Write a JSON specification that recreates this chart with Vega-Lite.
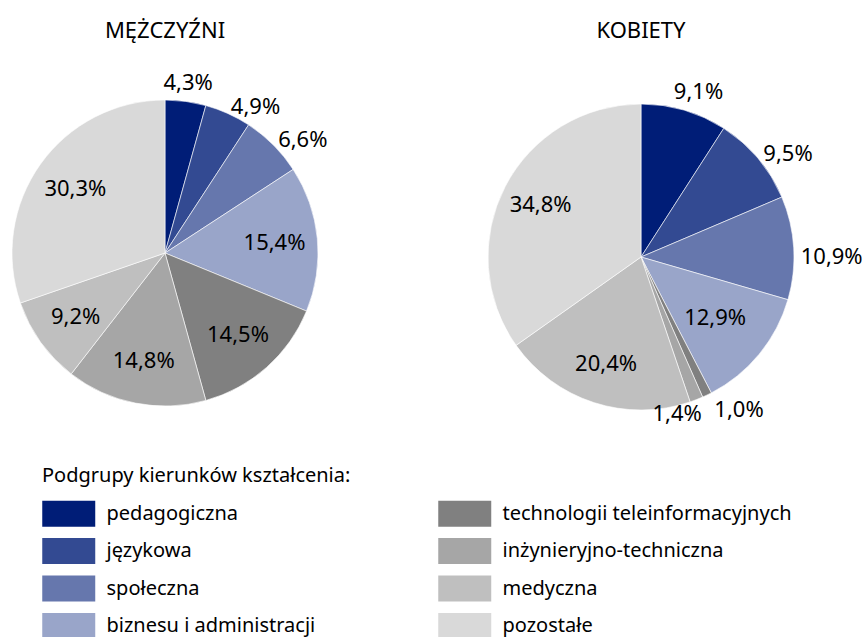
{
  "$schema": "https://vega.github.io/schema/vega-lite/v6.json",
  "padding": {"left": 0, "top": 20, "right": 0, "bottom": 0},
  "data": {
    "values": [
      {"plec": "MĘŻCZYŹNI", "grupa": "pedagogiczna", "kolejnosc": 1, "udzial": 4.3},
      {"plec": "MĘŻCZYŹNI", "grupa": "językowa", "kolejnosc": 2, "udzial": 4.9},
      {"plec": "MĘŻCZYŹNI", "grupa": "społeczna", "kolejnosc": 3, "udzial": 6.6},
      {"plec": "MĘŻCZYŹNI", "grupa": "biznesu i administracji", "kolejnosc": 4, "udzial": 15.4},
      {"plec": "MĘŻCZYŹNI", "grupa": "technologii teleinformacyjnych", "kolejnosc": 5, "udzial": 14.5},
      {"plec": "MĘŻCZYŹNI", "grupa": "inżynieryjno-techniczna", "kolejnosc": 6, "udzial": 14.8},
      {"plec": "MĘŻCZYŹNI", "grupa": "medyczna", "kolejnosc": 7, "udzial": 9.2},
      {"plec": "MĘŻCZYŹNI", "grupa": "pozostałe", "kolejnosc": 8, "udzial": 30.3},
      {"plec": "KOBIETY", "grupa": "pedagogiczna", "kolejnosc": 1, "udzial": 9.1},
      {"plec": "KOBIETY", "grupa": "językowa", "kolejnosc": 2, "udzial": 9.5},
      {"plec": "KOBIETY", "grupa": "społeczna", "kolejnosc": 3, "udzial": 10.9},
      {"plec": "KOBIETY", "grupa": "biznesu i administracji", "kolejnosc": 4, "udzial": 12.9},
      {"plec": "KOBIETY", "grupa": "technologii teleinformacyjnych", "kolejnosc": 5, "udzial": 1.0},
      {"plec": "KOBIETY", "grupa": "inżynieryjno-techniczna", "kolejnosc": 6, "udzial": 1.4},
      {"plec": "KOBIETY", "grupa": "medyczna", "kolejnosc": 7, "udzial": 20.4},
      {"plec": "KOBIETY", "grupa": "pozostałe", "kolejnosc": 8, "udzial": 34.8}
    ]
  },
  "transform": [
    {"calculate": "replace(format(datum.udzial, '.1f'), '.', ',') + '%'", "as": "etykieta"}
  ],
  "spacing": 94,
  "hconcat": [
    {
      "width": 330,
      "height": 370,
      "title": "MĘŻCZYŹNI",
      "transform": [{"filter": "datum.plec === 'MĘŻCZYŹNI'"}],
      "encoding": {
        "theta": {"field": "udzial", "type": "quantitative", "stack": true},
        "order": {"field": "kolejnosc", "type": "quantitative"}
      },
      "layer": [
        {
          "mark": {"type": "arc", "outerRadius": 153, "stroke": "#ffffff", "strokeWidth": 0.6},
          "encoding": {
            "color": {
              "field": "grupa",
              "type": "nominal",
              "scale": {
                "domain": ["pedagogiczna", "językowa", "społeczna", "biznesu i administracji", "technologii teleinformacyjnych", "inżynieryjno-techniczna", "medyczna", "pozostałe"],
                "range": ["#001d77", "#334a92", "#6677ad", "#99a5c9", "#808080", "#a6a6a6", "#bfbfbf", "#d9d9d9"]
              },
              "legend": {"title": "Podgrupy kierunków kształcenia:"}
            }
          }
        },
        {
          "mark": {"type": "text", "radius": 110, "fontSize": 22, "font": "Noto Sans", "color": "#000000"},
          "encoding": {"text": {"condition": {"test": "datum.udzial > 9", "field": "etykieta", "type": "nominal"}, "value": ""}}
        },
        {
          "mark": {"type": "text", "radius": 172, "fontSize": 22, "font": "Noto Sans", "color": "#000000"},
          "encoding": {"text": {"condition": {"test": "datum.grupa === 'pedagogiczna'", "field": "etykieta", "type": "nominal"}, "value": ""}}
        },
        {
          "mark": {"type": "text", "radius": 160, "align": "left", "fontSize": 22, "font": "Noto Sans", "color": "#000000"},
          "encoding": {"text": {"condition": {"test": "datum.grupa === 'językowa' || datum.grupa === 'społeczna'", "field": "etykieta", "type": "nominal"}, "value": ""}}
        }
      ]
    },
    {
      "width": 420,
      "height": 378,
      "title": "KOBIETY",
      "transform": [{"filter": "datum.plec === 'KOBIETY'"}],
      "encoding": {
        "theta": {"field": "udzial", "type": "quantitative", "stack": true},
        "order": {"field": "kolejnosc", "type": "quantitative"}
      },
      "layer": [
        {
          "mark": {"type": "arc", "outerRadius": 153, "stroke": "#ffffff", "strokeWidth": 0.6},
          "encoding": {
            "color": {"field": "grupa", "type": "nominal"}
          }
        },
        {
          "mark": {"type": "text", "radius": 113, "fontSize": 22, "font": "Noto Sans", "color": "#000000"},
          "encoding": {"text": {"condition": {"test": "datum.udzial > 13", "field": "etykieta", "type": "nominal"}, "value": ""}}
        },
        {
          "mark": {"type": "text", "radius": 96, "fontSize": 22, "font": "Noto Sans", "color": "#000000"},
          "encoding": {"text": {"condition": {"test": "datum.grupa === 'biznesu i administracji'", "field": "etykieta", "type": "nominal"}, "value": ""}}
        },
        {
          "mark": {"type": "text", "radius": 172, "dx": 9, "fontSize": 22, "font": "Noto Sans", "color": "#000000"},
          "encoding": {"text": {"condition": {"test": "datum.grupa === 'pedagogiczna'", "field": "etykieta", "type": "nominal"}, "value": ""}}
        },
        {
          "mark": {"type": "text", "radius": 160, "align": "left", "fontSize": 22, "font": "Noto Sans", "color": "#000000"},
          "encoding": {"text": {"condition": {"test": "datum.grupa === 'językowa'", "field": "etykieta", "type": "nominal"}, "value": ""}}
        },
        {
          "mark": {"type": "text", "radius": 160, "align": "left", "baseline": "top", "fontSize": 22, "font": "Noto Sans", "color": "#000000"},
          "encoding": {"text": {"condition": {"test": "datum.grupa === 'społeczna'", "field": "etykieta", "type": "nominal"}, "value": ""}}
        },
        {
          "mark": {"type": "text", "radius": 170, "align": "left", "fontSize": 22, "font": "Noto Sans", "color": "#000000"},
          "encoding": {"text": {"condition": {"test": "datum.grupa === 'technologii teleinformacyjnych'", "field": "etykieta", "type": "nominal"}, "value": ""}}
        },
        {
          "mark": {"type": "text", "radius": 168, "align": "right", "fontSize": 22, "font": "Noto Sans", "color": "#000000"},
          "encoding": {"text": {"condition": {"test": "datum.grupa === 'inżynieryjno-techniczna'", "field": "etykieta", "type": "nominal"}, "value": ""}}
        }
      ]
    }
  ],
  "config": {
    "view": {"stroke": null},
    "title": {"fontSize": 22, "fontWeight": "normal", "font": "Noto Sans", "color": "#000000", "offset": 25},
    "legend": {
      "orient": "none",
      "legendX": 42,
      "legendY": 398,
      "columns": 2,
      "columnPadding": 122,
      "rowPadding": 10.5,
      "titleFontSize": 20,
      "titleFontWeight": "normal",
      "titleFont": "Noto Sans",
      "titleColor": "#000000",
      "titlePadding": 14,
      "titleLimit": 500,
      "labelFontSize": 20,
      "labelFont": "Noto Sans",
      "labelColor": "#000000",
      "labelOffset": 37.5,
      "labelLimit": 400,
      "symbolType": "M-1,-0.98L3,-0.98L3,0.98L-1,0.98Z",
      "symbolSize": 702,
      "symbolStrokeWidth": 0,
      "symbolOpacity": 1
    }
  }
}
